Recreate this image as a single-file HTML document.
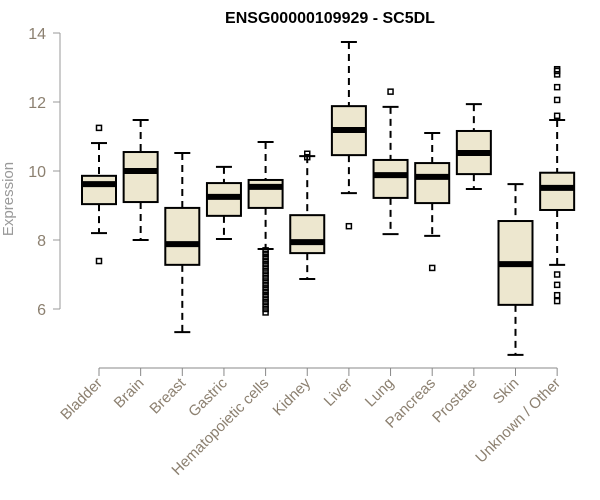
<!DOCTYPE html>
<html><head><meta charset="utf-8"><style>
body{margin:0;background:#fff;}
svg{display:block;font-family:"Liberation Sans",Arial,sans-serif;}
</style></head><body>
<svg id="chart" width="600" height="500"></svg>
<script>
const categories=["Bladder","Brain","Breast","Gastric","Hematopoietic cells","Kidney","Liver","Lung","Pancreas","Prostate","Skin","Unknown / Other"];
const whiskerLow=[8.2,8.0,5.33,8.03,7.74,6.87,9.36,8.17,8.12,9.48,4.67,7.28];
const q1=[9.04,9.1,7.28,8.7,8.93,7.62,10.46,9.22,9.07,9.91,6.12,8.87];
const medians=[9.62,10.0,7.88,9.25,9.54,7.94,11.19,9.88,9.83,10.52,7.3,9.51];
const q3=[9.86,10.55,8.93,9.65,9.74,8.72,11.88,10.32,10.23,11.16,8.55,9.95];
const whiskerHigh=[10.81,11.48,10.52,10.12,10.84,10.43,13.74,11.86,11.1,11.94,9.62,11.48];
const outliers=[[11.25,7.39],[],[],[],[7.7,7.6,7.5,7.4,7.3,7.2,7.1,7.0,6.9,6.8,6.7,6.6,6.5,6.4,6.3,6.2,6.1,6.0,5.9],[10.5,10.4],[8.4],[12.3],[7.19],[],[],[12.95,12.9,12.8,12.43,12.06,11.6,7.0,6.7,6.4,6.23]];
const yTicks=[6,8,10,12,14];
const NS="http://www.w3.org/2000/svg";
const svg=document.getElementById('chart');
const y=v=>309-(v-6)*34.5;
const x=i=>99+i*41.65;
function el(t,a,p){const e=document.createElementNS(NS,t);for(const k in a)e.setAttribute(k,a[k]);(p||svg).appendChild(e);return e;}
const title=el('text',{x:330,y:23,'text-anchor':'middle','font-size':16,'font-weight':'bold',fill:'#000'});
title.textContent="ENSG00000109929 - SC5DL";


const yax=el('line',{x1:60,x2:60,y1:y(6),y2:y(14),stroke:'#999'});


yTicks.forEach(t=>{
 el('line',{x1:53,x2:60,y1:y(t),y2:y(t),stroke:'#999'});
 const tx=el('text',{x:46,y:y(t)+6,'text-anchor':'end','font-size':16,fill:'#8c8070'});
 tx.textContent=t;
 
 
});
const yt=el('text',{x:0,y:0,transform:'translate(13,199) rotate(-90)','text-anchor':'middle','font-size':15,fill:'#999'});
yt.textContent="Expression";


const xax=el('line',{x1:x(0),x2:x(11),y1:368,y2:368,stroke:'#888'});


categories.forEach((c,i)=>{
 const cx=x(i);
 el('line',{x1:cx,x2:cx,y1:368,y2:376,stroke:'#888'});
 const lt=el('text',{x:0,y:0,transform:`translate(${cx+4},${384}) rotate(-45)`,'text-anchor':'end','font-size':15,fill:'#8c8070'});
 lt.textContent=c;
 
 
 const g=el('g',{});
 
 
 el('line',{x1:cx,x2:cx,y1:y(whiskerHigh[i]),y2:y(q3[i]),stroke:'#000','stroke-width':2,'stroke-dasharray':'7,5'},g);
 el('line',{x1:cx,x2:cx,y1:y(q1[i]),y2:y(whiskerLow[i]),stroke:'#000','stroke-width':2,'stroke-dasharray':'7,5'},g);
 el('line',{x1:cx-8,x2:cx+8,y1:y(whiskerHigh[i]),y2:y(whiskerHigh[i]),stroke:'#000','stroke-width':2},g);
 el('line',{x1:cx-8,x2:cx+8,y1:y(whiskerLow[i]),y2:y(whiskerLow[i]),stroke:'#000','stroke-width':2},g);
 el('rect',{x:cx-17,y:y(q3[i]),width:34,height:y(q1[i])-y(q3[i]),fill:'#ede7cf',stroke:'#000','stroke-width':2},g);
 el('line',{x1:cx-17,x2:cx+17,y1:y(medians[i]),y2:y(medians[i]),stroke:'#000','stroke-width':6},g);
 outliers[i].forEach(o=>{
  const p=el('rect',{x:cx-2.5,y:y(o)-2.5,width:5,height:5,fill:'none',stroke:'#000','stroke-width':1.5},g);
  
  
 });
});
</script>
</body></html>
